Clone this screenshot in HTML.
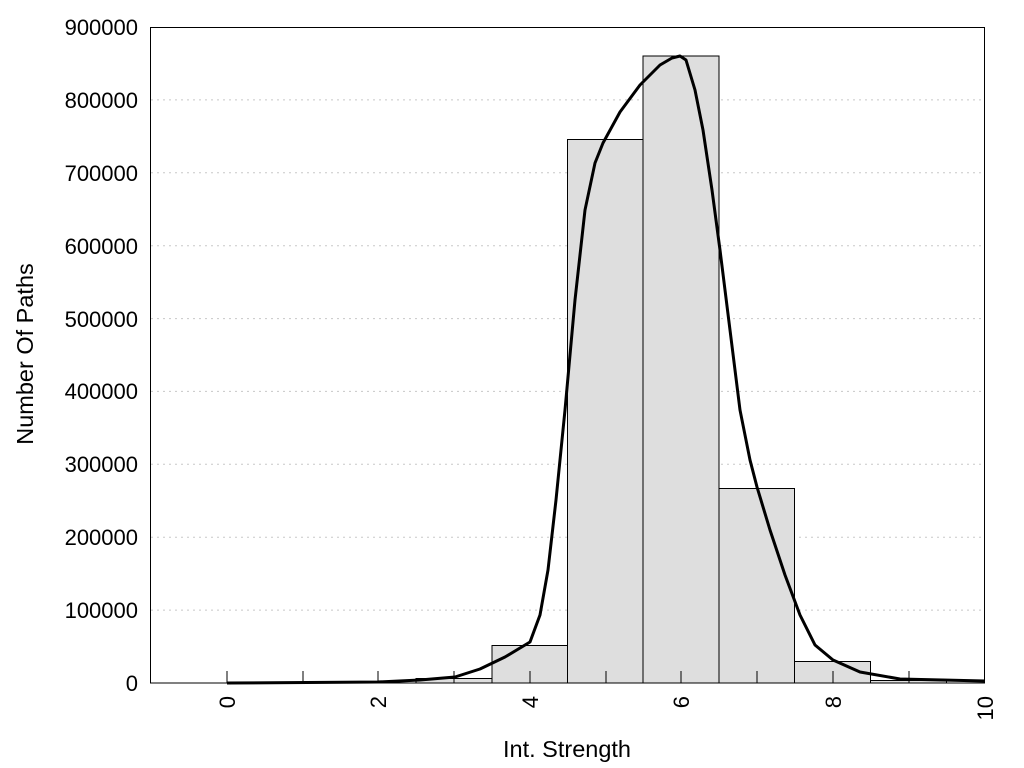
<!DOCTYPE html><html><head><style>body{margin:0;background:#fff}svg{display:block}text{font-family:"Liberation Sans",Arial,sans-serif;font-size:22px;fill:#000}</style></head><body>
<svg width="1024" height="768" xmlns="http://www.w3.org/2000/svg">
<g stroke="#c8c8c8" stroke-width="1" stroke-dasharray="2,4">
<line x1="151" x2="984" y1="610.1" y2="610.1"/><line x1="151" x2="984" y1="537.2" y2="537.2"/><line x1="151" x2="984" y1="464.3" y2="464.3"/><line x1="151" x2="984" y1="391.4" y2="391.4"/><line x1="151" x2="984" y1="318.6" y2="318.6"/><line x1="151" x2="984" y1="245.7" y2="245.7"/><line x1="151" x2="984" y1="172.8" y2="172.8"/><line x1="151" x2="984" y1="99.9" y2="99.9"/>
</g>
<g fill="#dedede" stroke="#000" stroke-width="1">
<rect x="416" y="678.5" width="76" height="4.5"/>
<rect x="492" y="645.5" width="75.5" height="37.5"/>
<rect x="567.5" y="139.5" width="75.5" height="543.5"/>
<rect x="643" y="56" width="76" height="627"/>
<rect x="719" y="488.5" width="75.5" height="194.5"/>
<rect x="794.5" y="661.5" width="76" height="21.5"/>
<rect x="870.5" y="680.5" width="76" height="2.5"/>
</g>
<rect x="150.5" y="27.5" width="834" height="655.5" fill="none" stroke="#000" stroke-width="1"/>
<g stroke="#000" stroke-width="1">
<line x1="227" x2="227" y1="683" y2="671"/><line x1="303" x2="303" y1="683" y2="671"/><line x1="378" x2="378" y1="683" y2="671"/><line x1="454" x2="454" y1="683" y2="671"/><line x1="530" x2="530" y1="683" y2="671"/><line x1="606" x2="606" y1="683" y2="671"/><line x1="681" x2="681" y1="683" y2="671"/><line x1="757" x2="757" y1="683" y2="671"/><line x1="833" x2="833" y1="683" y2="671"/><line x1="909" x2="909" y1="683" y2="671"/>
</g>
<polyline fill="none" stroke="#000" stroke-width="3" stroke-linejoin="round" points="227,683 378,682 420,680 455,677 480,669 505,657 530,642 540,615 548,570 556,500 565,410 575,300 585,210 595,163 603,143 620,112 640,85 660,65 672,58 680,56 686,60 695,90 703,130 712,190 720,250 730,330 740,410 750,460 757,487 770,530 785,575 800,615 815,645 833,660 860,672 900,679 985,681"/>
<g text-anchor="end">
<text x="138" y="691">0</text><text x="138" y="618">100000</text><text x="138" y="545">200000</text><text x="138" y="472">300000</text><text x="138" y="399">400000</text><text x="138" y="327">500000</text><text x="138" y="254">600000</text><text x="138" y="181">700000</text><text x="138" y="108">800000</text><text x="138" y="35">900000</text>
</g>
<g text-anchor="end">
<text transform="translate(235,696) rotate(-90)">0</text>
<text transform="translate(386,696) rotate(-90)">2</text>
<text transform="translate(538,696) rotate(-90)">4</text>
<text transform="translate(689,696) rotate(-90)">6</text>
<text transform="translate(841,696) rotate(-90)">8</text>
<text transform="translate(993,696) rotate(-90)">10</text>
</g>
<text x="567" y="757" text-anchor="middle" style="font-size:23.5px">Int. Strength</text>
<text transform="translate(33,354) rotate(-90)" text-anchor="middle" style="font-size:23.5px">Number Of Paths</text>
</svg></body></html>
